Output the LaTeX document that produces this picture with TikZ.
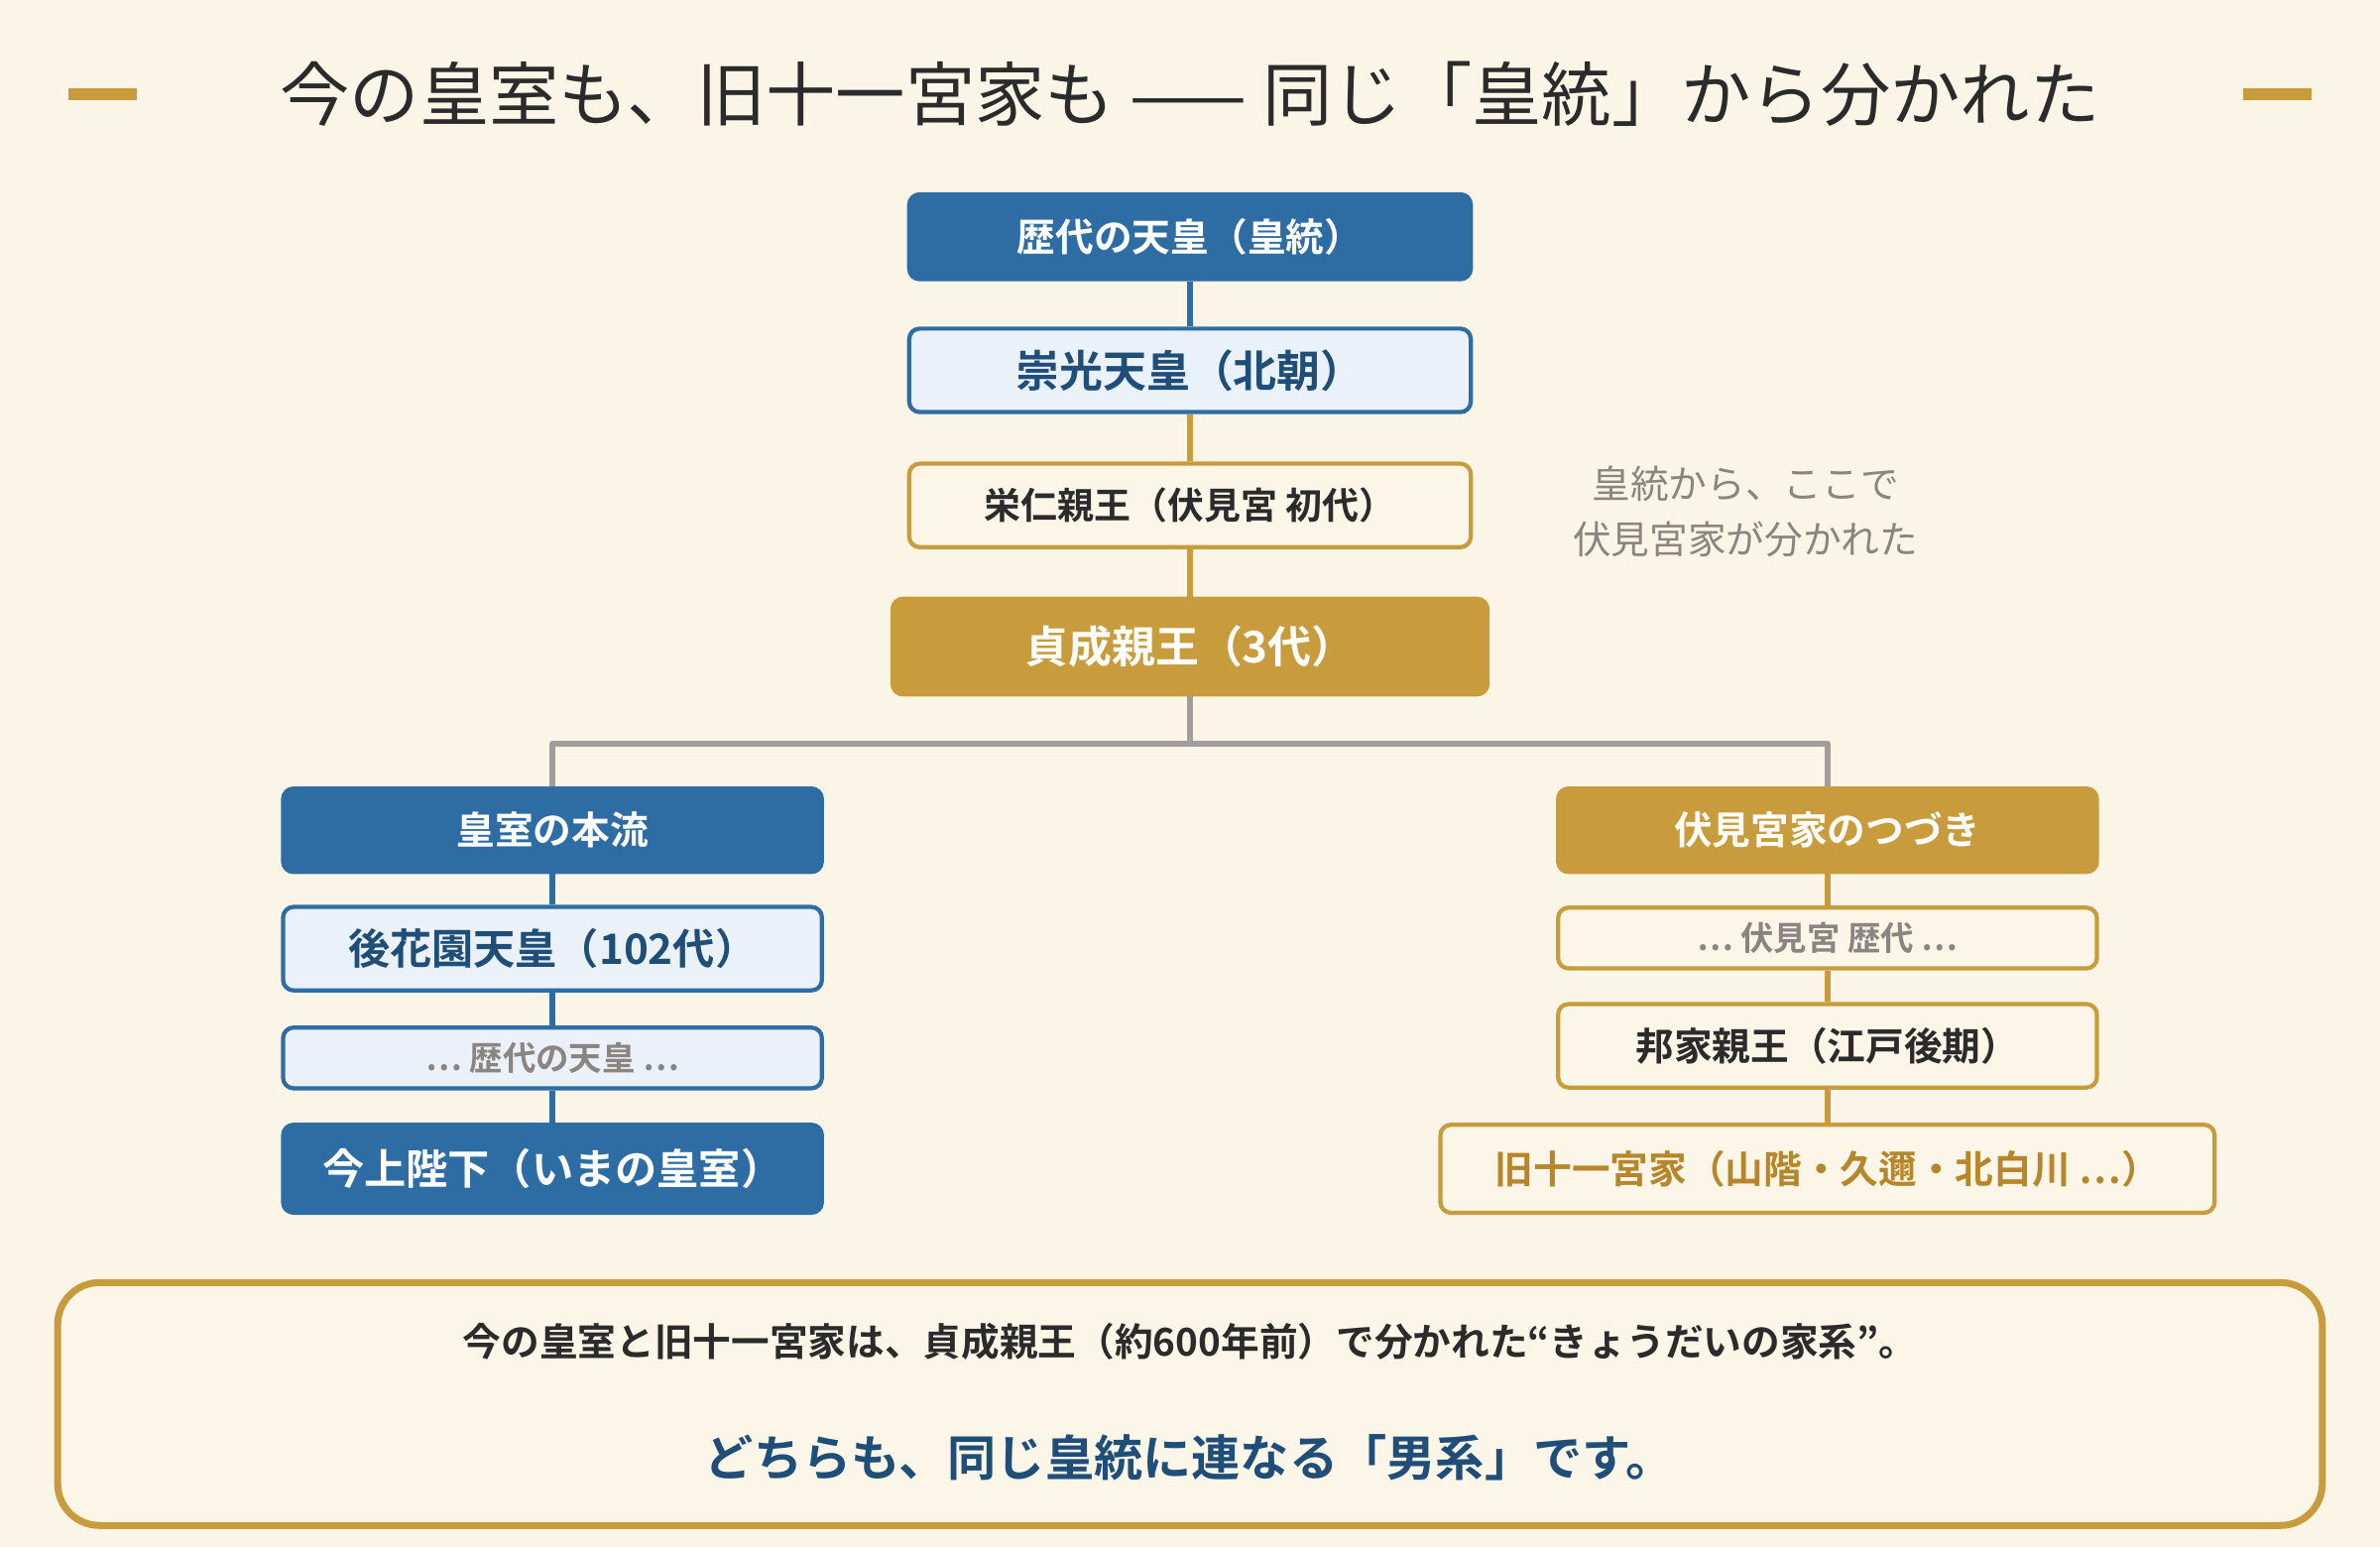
\documentclass[tikz,border=0pt]{standalone}
\usepackage{fontspec}
\setmainfont{Noto Sans CJK JP}
\newfontfamily\jpbold{Noto Sans CJK JP Bold}
\definecolor{bg}{HTML}{FBF5E7}
\definecolor{ablue}{HTML}{2E6DA4}
\definecolor{dblue}{HTML}{1F4E79}
\definecolor{lblue}{HTML}{EAF1F8}
\definecolor{agold}{HTML}{C89B3C}
\definecolor{dgold}{HTML}{B8862A}
\definecolor{cream}{HTML}{FCF6E8}
\definecolor{tgray}{HTML}{8A8580}
\definecolor{ink}{HTML}{2B2B2B}
\tikzset{
  box/.style={rounded corners=3pt, line width=1.2pt, align=center, font=\jpbold\fontsize{11}{13}\selectfont},
  bluefill/.style={box, fill=ablue, draw=ablue, text=white},
  bluelite/.style={box, fill=lblue, draw=ablue, text=dblue},
  goldfill/.style={box, fill=agold, draw=agold, text=white},
  goldlite/.style={box, fill=cream, draw=agold, text=ink},
  bline/.style={ablue, line width=1.6pt},
  gline/.style={agold, line width=1.6pt},
}
\begin{document}
\begin{tikzpicture}[x=0.153mm, y=-0.153mm, line join=round]
	%Nền.
	\fill[bg] (0,0) rectangle (1568,1019);
	\useasboundingbox (0,0) rectangle (1568,1019);
	%Tiêu đề.
	\draw[agold, line width=3.5pt] (45,62)--(90,62) (1478,62)--(1523,62);
	\node[ink, font=\fontsize{20}{24}\selectfont] (title) at (784,62) {今の皇室も、旧十一宮家も —— 同じ「皇統」から分かれた};
	%Dòng chính.
	\node[bluefill, minimum width=370*0.153mm, minimum height=56*0.153mm] (tenno) at (784,156) {歴代の天皇（皇統）};
	\node[bluelite, minimum width=370*0.153mm, minimum height=55*0.153mm, font=\jpbold\fontsize{12.5}{14}\selectfont] (suko) at (784,244) {崇光天皇（北朝）};
	\node[goldlite, minimum width=370*0.153mm, minimum height=55*0.153mm, font=\jpbold\fontsize{10.5}{13}\selectfont] (yoshi) at (784,333) {栄仁親王（伏見宮 初代）};
	\node[goldfill, minimum width=392*0.153mm, minimum height=63*0.153mm, font=\jpbold\fontsize{12.5}{14}\selectfont] (sada) at (784,426) {貞成親王（3代）};
	\node[tgray, align=center, font=\fontsize{11}{16}\selectfont] (note) at (1150,337) {皇統から、ここで\\伏見宮家が分かれた};
	%Nhánh trái.
	\node[bluefill, minimum width=355*0.153mm, minimum height=55*0.153mm] (honryu) at (364,547) {皇室の本流};
	\node[bluelite, minimum width=355*0.153mm, minimum height=55*0.153mm, font=\jpbold\fontsize{12}{14}\selectfont] (gohana) at (364,625) {後花園天皇（102代）};
	\node[bluelite, minimum width=355*0.153mm, minimum height=40*0.153mm, text=tgray, font=\jpbold\fontsize{9.5}{12}\selectfont] (rekidai) at (364,697) {… 歴代の天皇 …};
	\node[bluefill, minimum width=355*0.153mm, minimum height=58*0.153mm, font=\jpbold\fontsize{12}{14}\selectfont] (kinjo) at (364,770) {今上陛下（いまの皇室）};
	%Nhánh phải.
	\node[goldfill, minimum width=355*0.153mm, minimum height=55*0.153mm] (fushimi) at (1204,547) {伏見宮家のつづき};
	\node[goldlite, minimum width=355*0.153mm, minimum height=40*0.153mm, text=tgray, font=\jpbold\fontsize{9.5}{12}\selectfont] (fsrek) at (1204,618) {… 伏見宮 歴代 …};
	\node[goldlite, minimum width=355*0.153mm, minimum height=55*0.153mm] (kuniie) at (1204,689) {邦家親王（江戸後期）};
	\node[goldlite, minimum width=510*0.153mm, minimum height=58*0.153mm, text=dgold] (juichi) at (1204,770) {旧十一宮家（山階・久邇・北白川 …）};
	%Nối.
	\draw[bline] (tenno)--(suko);
	\draw[gline] (suko)--(yoshi);
	\draw[gline] (yoshi)--(sada);
	\draw[tgray!80, line width=1.8pt] (sada.south)--(784,490) -| (honryu.north);
	\draw[tgray!80, line width=1.8pt] (784,490) -| (fushimi.north);
	\draw[bline] (honryu)--(gohana);
	\draw[bline] (gohana)--(rekidai);
	\draw[bline] (rekidai)--(kinjo);
	\draw[gline] (fushimi)--(fsrek);
	\draw[gline] (fsrek)--(kuniie);
	\draw[gline] (kuniie)--(juichi);
	%Khung dưới.
	\draw[agold, line width=2pt, fill=cream, rounded corners=12pt] (38,845) rectangle (1530,1005);
	\node[ink, font=\jpbold\fontsize{11}{13}\selectfont] (sum1) at (784,884) {今の皇室と旧十一宮家は、貞成親王（約600年前）で分かれた“きょうだいの家系”。};
	\node[dblue, font=\jpbold\fontsize{14}{16}\selectfont] (sum2) at (784,960) {どちらも、同じ皇統に連なる「男系」です。};
\end{tikzpicture}
\end{document}
